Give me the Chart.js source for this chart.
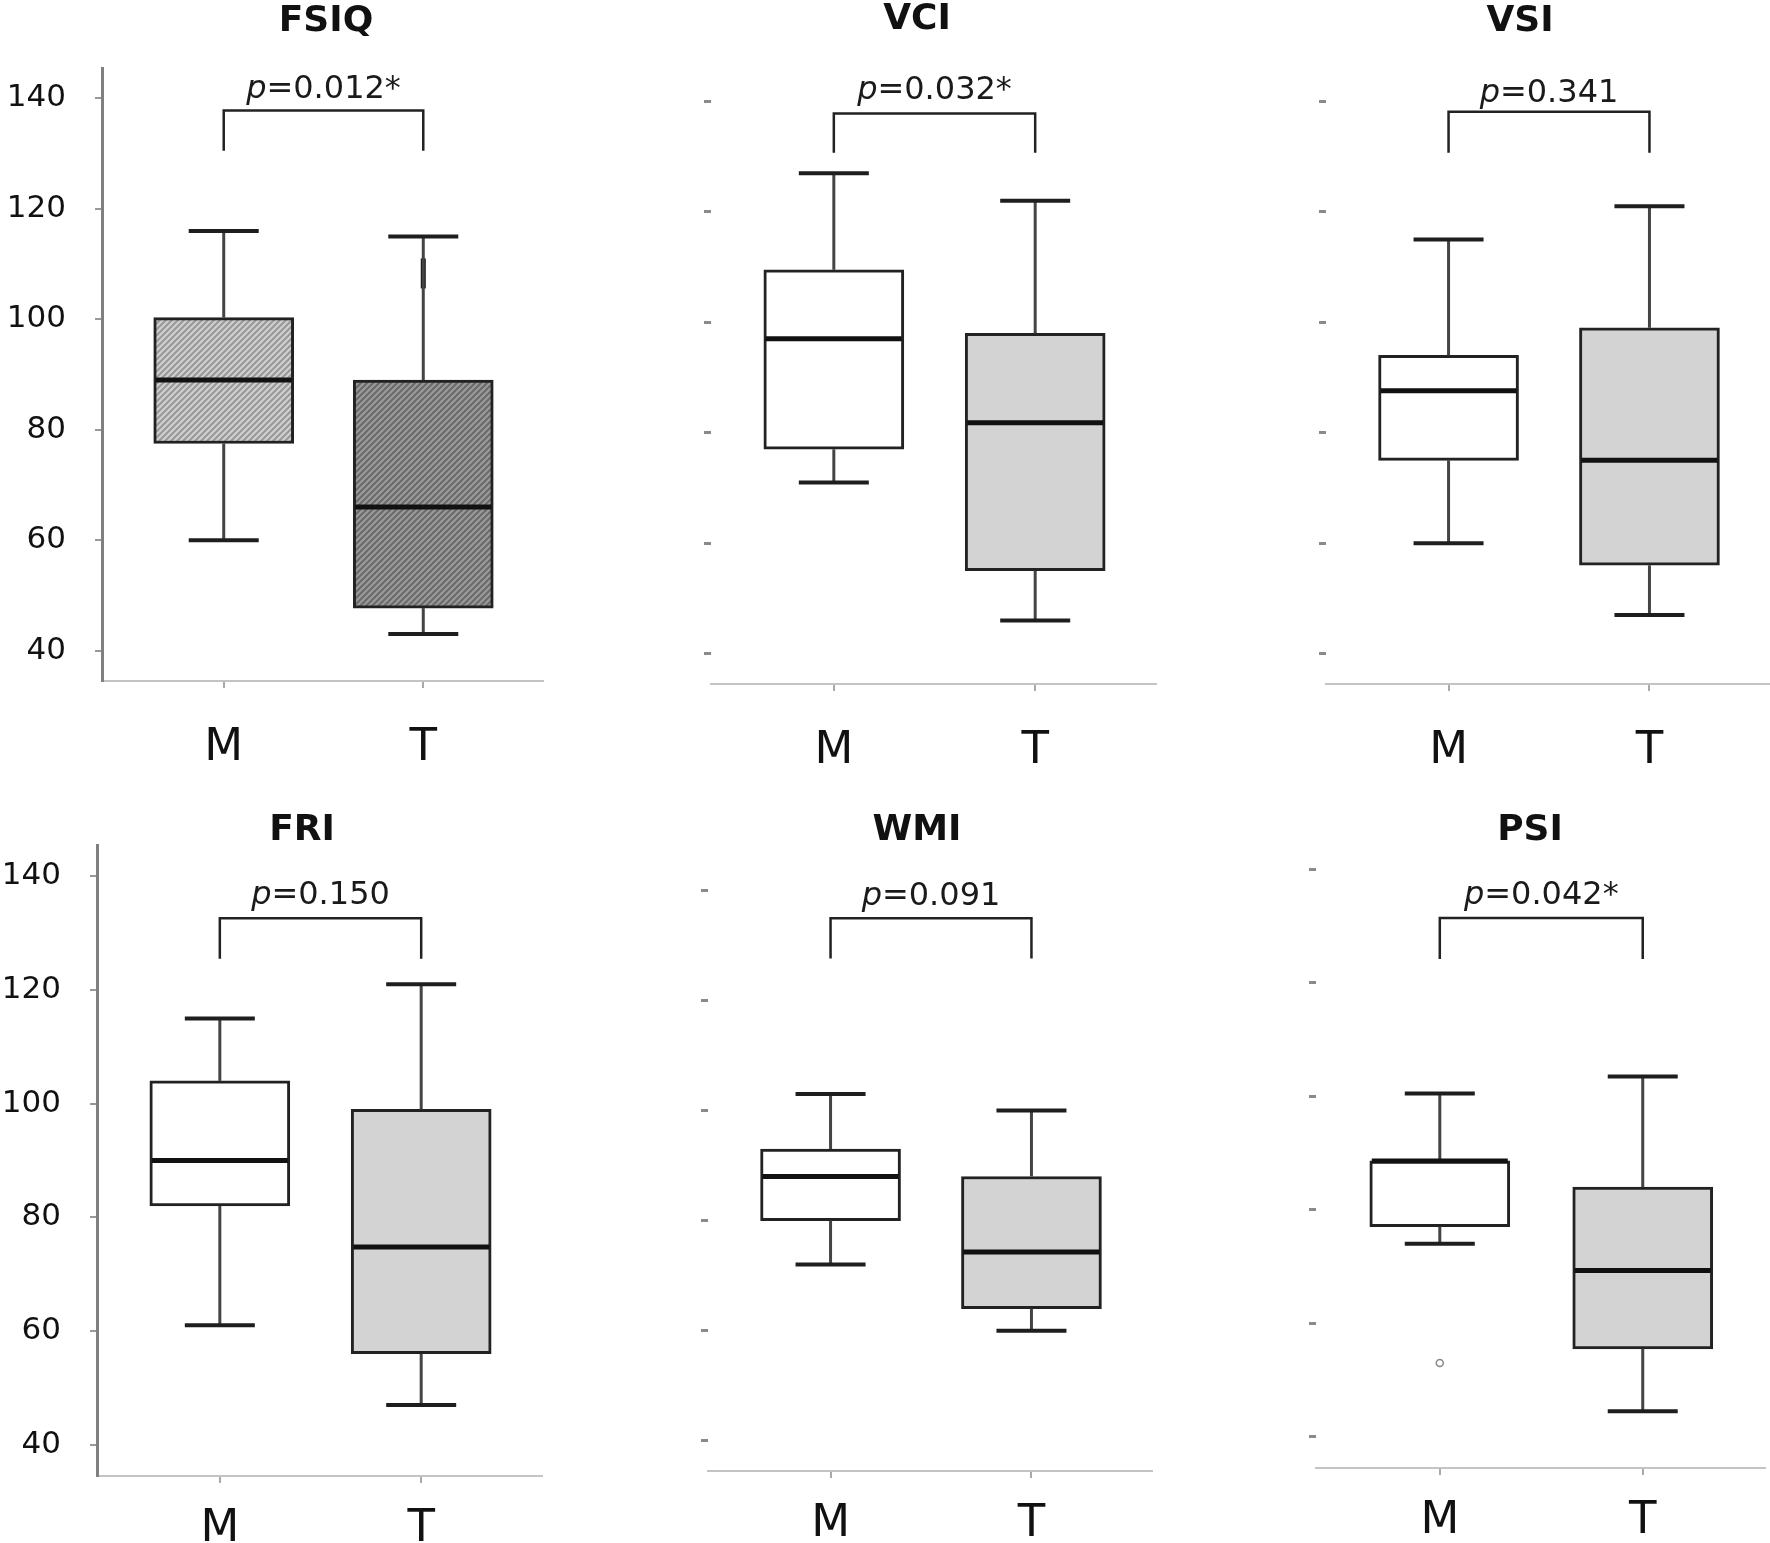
<!DOCTYPE html>
<html>
<head>
<meta charset="utf-8">
<script src="https://cdn.jsdelivr.net/npm/chart.js@4.4.1/dist/chart.umd.min.js"></script>
<style>
    body { margin: 0; background: #fff; }
    #page { position: relative; width: 1770px; height: 1543px; overflow: hidden; }
    .panel { position: absolute; }
</style>
</head>
<body>
<div id="page"></div>
<script>
// Data
const panelNames = ['FSIQ', 'VCI', 'VSI', 'FRI', 'WMI', 'PSI'];
const groups = ['M', 'T'];
const pTexts = ['0.012*', '0.032*', '0.341', '0.150', '0.091', '0.042*'];
const yTicks = [40, 60, 80, 100, 120, 140];

const whiskerLow = [[60, 43], [71, 46], [60, 47], [61, 47], [72, 60], [74, 44.5]];
const q1 = [[77.5, 47.7], [77, 55], [75, 56], [82, 56], [80, 64], [77, 55.5]];
const median = [[89, 66], [97, 81.8], [87.6, 75], [90, 74.8], [88, 74.3], [88.6, 69.3]];
const q3 = [[100.3, 89], [109.5, 98], [94, 99], [104, 99], [93, 88], [88.6, 84]];
const whiskerHigh = [[116, 115], [127, 122], [115, 121], [115, 121], [103, 100], [100.5, 103.5]];
const outliers = [[[], [108.3]], [[], []], [[], []], [[], []], [[], []], [[53], []]];

Chart.defaults.font.family = "'DejaVu Sans', sans-serif";
Chart.defaults.color = '#111';

// Layout of each panel on the page (positions only)
const panelLayout = [
    { left: 0, top: 0, w: 600, h: 780, area: { l: 102, r: 543, t: 68, b: 681 }, labels: true, title: [326, 22], bracket: [137.8, 130.5, 142.2], labelPad: 33 },
    { left: 600, top: 0, w: 600, h: 780, area: { l: 111, r: 556, t: 71, b: 684 }, labels: false, title: [317, 20], bracket: [137.8, 130.7, 142.5], labelPad: 33 },
    { left: 1200, top: 0, w: 570, h: 780, area: { l: 126, r: 570, t: 71, b: 684 }, labels: false, title: [320, 22], bracket: [138.1, 130.7, 142.0], labelPad: 33 },
    { left: 0, top: 780, w: 600, h: 763, area: { l: 97, r: 542, t: 65, b: 696 }, labels: true, title: [302, 51], bracket: [132.6, 125.5, 137.1], labelPad: 19 },
    { left: 600, top: 780, w: 600, h: 763, area: { l: 108, r: 552, t: 80, b: 691 }, labels: false, title: [317, 51], bracket: [134.9, 127.6, 139.5], labelPad: 19 },
    { left: 1200, top: 780, w: 570, h: 763, area: { l: 116, r: 570, t: 58, b: 688 }, labels: false, title: [330, 51], bracket: [131.4, 124.2, 135.9], labelPad: 19 }
];

function hatch(bg, fg) {
    const c = document.createElement('canvas');
    c.width = 6;
    c.height = 6;
    const g = c.getContext('2d');
    g.fillStyle = bg;
    g.fillRect(0, 0, 6, 6);
    g.strokeStyle = fg;
    g.lineWidth = 2;
    g.beginPath();
    g.moveTo(-1, 7); g.lineTo(7, -1);
    g.moveTo(-4, 4); g.lineTo(4, -4);
    g.moveTo(2, 10); g.lineTo(10, 2);
    g.stroke();
    return g.createPattern(c, 'repeat');
}

function boxFills(i) {
    if (i === 0) return [hatch('#cfcfcf', '#989898'), hatch('#9a9a9a', '#6a6a6a')];
    return ['#ffffff', '#d3d3d3'];
}

function line(ctx, x1, y1, x2, y2) {
    ctx.beginPath();
    ctx.moveTo(x1, y1);
    ctx.lineTo(x2, y2);
    ctx.stroke();
}

// Whiskers, medians, the comparison bracket and the texts
const boxExtras = {
    id: 'boxExtras',
    afterDatasetsDraw(chart, args, opts) {
        const i = opts.panel;
        const L = panelLayout[i];
        const ctx = chart.ctx;
        const ys = chart.scales.y;
        const xs = chart.scales.x;
        const meta = chart.getDatasetMeta(0);
        ctx.save();
        ctx.lineCap = 'butt';
        meta.data.forEach((bar, g) => {
            const cx = bar.x;
            const half = bar.width / 2;
            const yHi = ys.getPixelForValue(whiskerHigh[i][g]);
            const yLo = ys.getPixelForValue(whiskerLow[i][g]);
            ctx.strokeStyle = '#444';
            ctx.lineWidth = 3;
            line(ctx, cx, ys.getPixelForValue(q3[i][g]), cx, yHi);
            line(ctx, cx, ys.getPixelForValue(q1[i][g]), cx, yLo);
            ctx.strokeStyle = '#1e1e1e';
            ctx.lineWidth = 4;
            line(ctx, cx - 35, yHi, cx + 35, yHi);
            line(ctx, cx - 35, yLo, cx + 35, yLo);
            ctx.strokeStyle = '#111';
            ctx.lineWidth = 5;
            const ym = ys.getPixelForValue(median[i][g]);
            line(ctx, cx - half + 2, ym, cx + half - 2, ym);
        });

        // bracket between the two groups
        const xM = xs.getPixelForValue(0);
        const xT = xs.getPixelForValue(1);
        const yTop = ys.getPixelForValue(L.bracket[0]);
        const yLeg = ys.getPixelForValue(L.bracket[1]);
        ctx.strokeStyle = '#222';
        ctx.lineWidth = 2.5;
        ctx.beginPath();
        ctx.moveTo(xM, yLeg);
        ctx.lineTo(xM, yTop);
        ctx.lineTo(xT, yTop);
        ctx.lineTo(xT, yLeg);
        ctx.stroke();

        // p value text, italic p
        const size = 32;
        const yText = ys.getPixelForValue(L.bracket[2]) + size * 0.36;
        ctx.fillStyle = '#1a1a1a';
        ctx.textBaseline = 'alphabetic';
        ctx.textAlign = 'left';
        ctx.font = 'italic ' + size + "px 'DejaVu Sans'";
        const wp = ctx.measureText('p').width;
        ctx.font = size + "px 'DejaVu Sans'";
        const rest = '=' + pTexts[i];
        const wr = ctx.measureText(rest).width;
        const x0 = (xM + xT) / 2 - (wp + wr) / 2;
        ctx.font = 'italic ' + size + "px 'DejaVu Sans'";
        ctx.fillText('p', x0, yText);
        ctx.font = size + "px 'DejaVu Sans'";
        ctx.fillText(rest, x0 + wp, yText);

        // panel title
        ctx.font = "bold 36px 'DejaVu Sans'";
        ctx.textAlign = 'center';
        ctx.textBaseline = 'middle';
        ctx.fillStyle = '#111';
        ctx.fillText(panelNames[i], L.title[0], L.title[1]);
        ctx.restore();
    }
};

const page = document.getElementById('page');

panelNames.forEach((name, i) => {
    const L = panelLayout[i];
    const holder = document.createElement('div');
    holder.className = 'panel';
    holder.style.left = L.left + 'px';
    holder.style.top = L.top + 'px';
    const canvas = document.createElement('canvas');
    canvas.width = L.w;
    canvas.height = L.h;
    canvas.style.width = L.w + 'px';
    canvas.style.height = L.h + 'px';
    holder.appendChild(canvas);
    page.appendChild(holder);

    const outlierPoints = [];
    groups.forEach((g, gi) => {
        outliers[i][gi].forEach(v => outlierPoints.push({ x: gi, y: v }));
    });
    const dashMark = i === 0;

    new Chart(canvas.getContext('2d'), {
        type: 'bar',
        data: {
            datasets: [{
                label: name,
                data: groups.map((g, gi) => ({ x: gi, y: [q1[i][gi], q3[i][gi]] })),
                backgroundColor: boxFills(i),
                borderColor: '#222',
                borderWidth: 3,
                borderSkipped: false,
                barThickness: 140
            },
            {
                type: 'scatter',
                label: 'outliers',
                data: outlierPoints,
                pointStyle: dashMark ? 'line' : 'circle',
                rotation: dashMark ? 90 : 0,
                radius: dashMark ? 15 : 3.5,
                borderWidth: dashMark ? 5 : 1.5,
                borderColor: dashMark ? '#111' : '#888',
                backgroundColor: '#fff'
            }]
        },
        options: {
            responsive: false,
            animation: false,
            events: [],
            layout: {
                padding: { top: L.area.t, right: L.w - L.area.r, left: 0, bottom: 0 }
            },
            plugins: {
                legend: { display: false },
                tooltip: { enabled: false },
                boxExtras: { panel: i }
            },
            scales: {
                x: {
                    type: 'linear',
                    min: -0.61,
                    max: 1.6,
                    offset: false,
                    afterBuildTicks: function (axis) {
                        axis.ticks = groups.map((g, gi) => ({ value: gi }));
                    },
                    afterFit: function (axis) {
                        axis.height = L.h - L.area.b;
                    },
                    ticks: {
                        callback: function (value) {
                            return groups[value];
                        },
                        font: { size: 45 },
                        color: '#111',
                        padding: L.labelPad,
                        maxRotation: 0
                    },
                    grid: {
                        drawOnChartArea: false,
                        offset: false,
                        tickLength: 7,
                        color: '#aaa',
                        lineWidth: 2
                    },
                    border: { color: '#c4c4c4', width: 2 }
                },
                y: {
                    min: 34.5,
                    max: 145.5,
                    afterBuildTicks: function (axis) {
                        axis.ticks = yTicks.map(v => ({ value: v }));
                    },
                    afterFit: function (axis) {
                        axis.width = L.area.l;
                    },
                    ticks: {
                        display: L.labels,
                        font: { size: 31 },
                        color: '#111',
                        padding: 29
                    },
                    grid: {
                        drawOnChartArea: false,
                        tickLength: 7,
                        color: L.labels ? '#999' : '#8a8a8a',
                        lineWidth: L.labels ? 2 : 3
                    },
                    border: { display: L.labels, color: '#808080', width: 3 }
                }
            }
        },
        plugins: [boxExtras]
    });
});
</script>
</body>
</html>
